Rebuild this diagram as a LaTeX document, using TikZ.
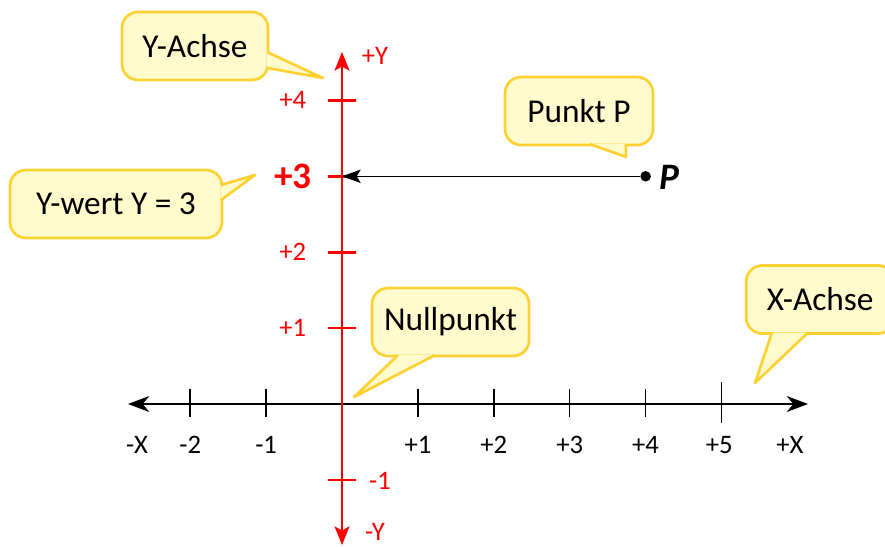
\documentclass[tikz,border=0pt]{standalone}
\usepackage{fontspec}
\setmainfont{Carlito}
\usetikzlibrary{arrows.meta,calc}
\definecolor{bullefond}{RGB}{255,251,204}
\definecolor{bullebord}{RGB}{255,208,50}
\tikzset{
  bulle/.style={draw=bullebord, fill=bullefond, line width=1pt, rounded corners=6pt,
    minimum height=0.896cm, inner sep=0pt, font=\fontsize{12.5}{15}\selectfont},
  pointebord/.style={draw=bullebord, line width=1pt, line join=round},
  graduation/.style={font=\fontsize{10}{12}\selectfont},
  fleche/.style={-{Stealth[length=7pt,width=5.5pt,inset=1.5pt]}},
}

\begin{document}
\begin{tikzpicture}
        \useasboundingbox (-4.506,-1.871) rectangle (7.154,5.323);

        % Axe des abscisses (noir) et axe des ordonnées (rouge)
        \coordinate (xmin) at (-2.82,0);
        \coordinate (xmax) at (6.14,0);
        \coordinate (ymin) at (0,-1.86);
        \coordinate (ymax) at (0,4.64);
        \draw[line width=0.55pt, {Stealth[length=8pt,width=6pt,inset=2.5pt]}-{Stealth[length=8pt,width=6pt,inset=2.5pt]}] (xmin) -- (xmax);
        \draw[red, line width=1.1pt, {Stealth[length=7pt,width=5.5pt,inset=1.5pt]}-{Stealth[length=7pt,width=5.5pt,inset=1.5pt]}] (ymin) -- (ymax);

        % Graduations de l'axe x
        \foreach \i/\t [count=\k] in {-2/-2, -1/-1, 1/+1, 2/+2, 3/+3, 4/+4} {
          \draw[line width=0.55pt] (\i,0.2) -- (\i,-0.17);
          \node[graduation] (gx\k) at (\i,-0.54) {\t};
        }
        \draw[line width=0.55pt] (5,0.29) -- (5,-0.25);
        \node[graduation] (gx7) at (4.97,-0.54) {+5};
        \node[graduation] (xneg) at (-2.70,-0.54) {-X};
        \node[graduation] (xpos) at (5.90,-0.54) {+X};

        % Graduations de l'axe y
        \foreach \j/\t [count=\k] in {1/+1, 2/+2, 4/+4} {
          \draw[red, line width=1pt] (-0.18,\j) -- (0.18,\j);
          \node[graduation, red] (gy\k) at (-0.65,\j) {\t};
        }
        \draw[red, line width=1pt] (-0.18,3) -- (0.18,3);
        \node[red, font=\fontsize{14}{16}\selectfont\bfseries, anchor=east, inner sep=0pt] (gy3) at (-0.39,3) {+3};
        \draw[red, line width=1pt] (-0.18,-1) -- (0.18,-1);
        \node[graduation, red] (gyneg) at (0.50,-1.01) {-1};
        \node[graduation, red] (ypos) at (0.435,4.585) {+Y};
        \node[graduation, red] (yneg) at (0.435,-1.68) {-Y};

        % Point P et sa projection sur l'axe y
        \coordinate (y3) at (0,3);
        \node[circle, fill, inner sep=1.4pt] (punktP) at (4,3) {};
        \node[font=\fontsize{14}{16}\selectfont\bfseries\itshape] (nomP) at (4.32,2.98) {P};
        \draw[line width=0.5pt, -{Stealth[length=7pt,width=5pt,inset=1.5pt]}] (punktP) -- (y3);

        % Bulle Y-Achse
        \node[bulle, minimum width=1.924cm] (yachse) at (-1.937,4.717) {Y-Achse};
        \coordinate (yachsetip) at (-0.25,4.295);
        \fill[bullefond] ($(yachse.east)+(-0.03,-0.08)$) -- (yachsetip) -- ($(yachse.east)+(-0.03,-0.29)$) -- cycle;
        \draw[pointebord] ($(yachse.east)+(-0.03,-0.08)$) -- (yachsetip) -- ($(yachse.east)+(-0.03,-0.29)$);

        % Bulle Y-wert
        \node[bulle, minimum width=2.793cm] (ywert) at (-2.978,2.635) {Y-wert Y = 3};
        \coordinate (ywerttip) at (-1.146,3.017);
        \fill[bullefond] ($(ywert.east)+(-0.03,0.25)$) -- (ywerttip) -- ($(ywert.east)+(-0.03,0.053)$) -- cycle;
        \draw[pointebord] ($(ywert.east)+(-0.03,0.25)$) -- (ywerttip) -- ($(ywert.east)+(-0.03,0.053)$);

        % Bulle Punkt P
        \node[bulle, minimum width=1.949cm] (punkt) at (3.123,3.860) {Punkt P};
        \coordinate (punkttip) at (3.742,3.254);
        \fill[bullefond] ($(punkt.south)+(0.144,0.03)$) -- (punkttip) -- ($(punkt.south)+(0.619,0.03)$) -- cycle;
        \draw[pointebord] ($(punkt.south)+(0.144,0.03)$) -- (punkttip) -- ($(punkt.south)+(0.619,0.03)$);

        % Bulle Nullpunkt
        \node[bulle, minimum width=2.069cm] (null) at (1.430,1.080) {Nullpunkt};
        \coordinate (nulltip) at (0.158,0.092);
        \fill[bullefond] ($(null.south)+(-0.692,0.03)$) -- (nulltip) -- ($(null.south)+(-0.205,0.03)$) -- cycle;
        \draw[pointebord] ($(null.south)+(-0.692,0.03)$) -- (nulltip) -- ($(null.south)+(-0.205,0.03)$);

        % Bulle X-Achse
        \node[bulle, minimum width=1.95cm] (xachse) at (6.30,1.377) {X-Achse};
        \coordinate (xachsetip) at (5.441,0.277);
        \fill[bullefond] ($(xachse.south)+(-0.635,0.03)$) -- (xachsetip) -- ($(xachse.south)+(-0.16,0.03)$) -- cycle;
        \draw[pointebord] ($(xachse.south)+(-0.635,0.03)$) -- (xachsetip) -- ($(xachse.south)+(-0.16,0.03)$);
\end{tikzpicture}
\end{document}
